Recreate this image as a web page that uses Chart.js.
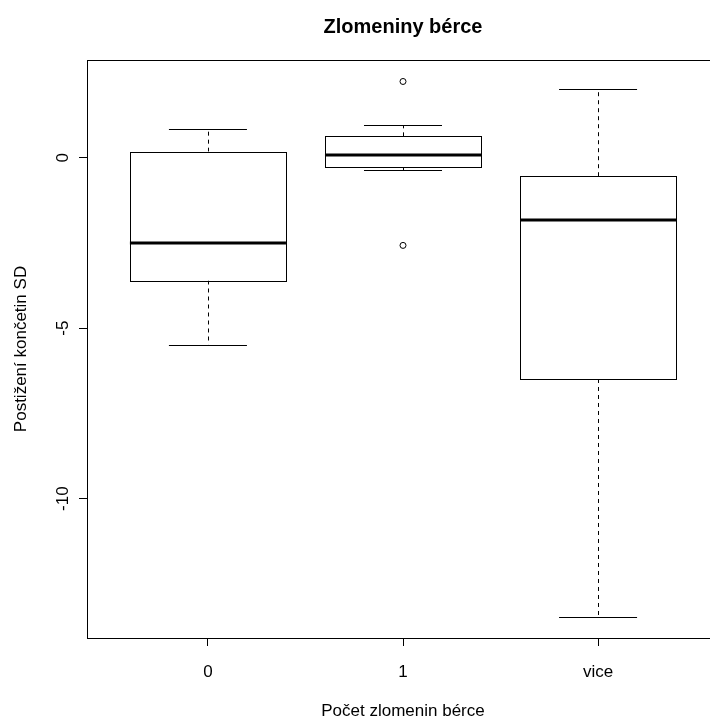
<!DOCTYPE html>
<html>
<head>
<meta charset="utf-8">
<script src="https://cdn.jsdelivr.net/npm/chart.js@4"></script>
<style>
    html, body { margin: 0; padding: 0; background: #fff; overflow: hidden; }
    #wrap { width: 730px; height: 720px; }
</style>
</head>
<body>
<div id="wrap"><canvas id="BoxChartjs" width="730" height="720"></canvas></div>
<script>
// values
const groups = ['0', '1', 'vice'];
const whiskerLow = [-5.48, -0.37, -13.46];
const q1 = [-3.60, -0.28, -6.49];
const median = [-2.49, 0.07, -1.83];
const q3 = [0.18, 0.63, -0.54];
const whiskerHigh = [0.85, 0.95, 2.02];
const outliers = [[], [2.24, -2.57], []];
const yTicks = [-10, -5, 0];
const xTicks = [1, 2, 3];

const fontFamily = '"Liberation Sans", Arial, Helvetica, sans-serif';
const BoxChart = document.getElementById('BoxChartjs').getContext('2d');

let outlierPoints = [];
outliers.forEach(function (list, i) {
    list.forEach(function (v) { outlierPoints.push({ x: i + 1, y: v }); });
});

function px(v) { return Math.round(v) + 0.5; }

// draws the boxes, whiskers and medians from the scales
const boxPlugin = {
    id: 'boxPlugin',
    beforeDatasetsDraw(chart) {
        const ctx = chart.ctx;
        const xs = chart.scales.x;
        const ys = chart.scales.y;
        ctx.save();
        ctx.strokeStyle = '#000';
        for (let i = 0; i < groups.length; i++) {
            const cx = xs.getPixelForValue(i + 1);
            const left = xs.getPixelForValue(i + 1 - 0.4);
            const right = xs.getPixelForValue(i + 1 + 0.4);
            const capL = xs.getPixelForValue(i + 1 - 0.2);
            const capR = xs.getPixelForValue(i + 1 + 0.2);
            const yLow = ys.getPixelForValue(whiskerLow[i]);
            const yQ1 = ys.getPixelForValue(q1[i]);
            const yMed = ys.getPixelForValue(median[i]);
            const yQ3 = ys.getPixelForValue(q3[i]);
            const yHigh = ys.getPixelForValue(whiskerHigh[i]);

            // whiskers
            ctx.lineWidth = 1;
            ctx.setLineDash([4, 4]);
            ctx.beginPath();
            ctx.moveTo(px(cx), yQ3);
            ctx.lineTo(px(cx), yHigh);
            ctx.moveTo(px(cx), yQ1);
            ctx.lineTo(px(cx), yLow);
            ctx.stroke();
            ctx.setLineDash([]);

            // caps
            ctx.beginPath();
            ctx.moveTo(capL, px(yHigh));
            ctx.lineTo(capR, px(yHigh));
            ctx.moveTo(capL, px(yLow));
            ctx.lineTo(capR, px(yLow));
            ctx.stroke();

            // box
            ctx.fillStyle = '#fff';
            ctx.fillRect(left, yQ3, right - left, yQ1 - yQ3);
            ctx.strokeRect(px(left), px(yQ3), Math.round(right - left), Math.round(yQ1 - yQ3));

            // median
            ctx.lineWidth = 3;
            ctx.beginPath();
            ctx.moveTo(left, Math.round(yMed));
            ctx.lineTo(right, Math.round(yMed));
            ctx.stroke();
        }

        // frame round the plot
        const a = chart.chartArea;
        ctx.lineWidth = 1;
        ctx.strokeRect(px(a.left), px(a.top), Math.round(a.right - a.left), Math.round(a.bottom - a.top));

        // y tick labels, turned like in R
        ctx.fillStyle = '#000';
        ctx.font = '17px ' + fontFamily;
        ctx.textAlign = 'center';
        ctx.textBaseline = 'middle';
        yTicks.forEach(function (v) {
            ctx.save();
            ctx.translate(a.left - 24, ys.getPixelForValue(v));
            ctx.rotate(-Math.PI / 2);
            ctx.fillText(String(v), 0, 0);
            ctx.restore();
        });
        ctx.restore();
    }
};

new Chart(BoxChart, {
    type: 'scatter',
    data: {
        datasets: [{
            label: 'odlehlé',
            data: outlierPoints,
            pointStyle: 'circle',
            pointRadius: 3,
            borderColor: '#000',
            borderWidth: 1,
            backgroundColor: 'rgba(0,0,0,0)'
        }]
    },
    options: {
        responsive: false,
        animation: false,
        layout: { padding: { left: 0, right: 11, top: 0, bottom: 0 } },
        plugins: {
            legend: { display: false },
            tooltip: { enabled: false },
            title: {
                display: true,
                text: 'Zlomeniny bérce',
                fullSize: false,
                color: '#000',
                font: { family: fontFamily, size: 20, weight: 'bold', lineHeight: 1.2 },
                padding: { top: 15, bottom: 21 }
            }
        },
        scales: {
            x: {
                type: 'linear',
                min: 0.38,
                max: 3.62,
                afterBuildTicks: function (scale) {
                    scale.ticks = xTicks.map(function (v) { return { value: v }; });
                },
                afterFit: function (scale) { scale.height = 82; },
                ticks: {
                    color: '#000',
                    padding: 16,
                    maxRotation: 0,
                    font: { family: fontFamily, size: 17 },
                    callback: function (value) { return groups[value - 1]; }
                },
                grid: { drawOnChartArea: false, drawTicks: true, tickLength: 8, color: '#000', tickColor: '#000' },
                border: { display: true, color: '#000' },
                title: {
                    display: true,
                    text: 'Počet zlomenin bérce',
                    color: '#000',
                    font: { family: fontFamily, size: 17, lineHeight: 1.0 },
                    padding: { top: 0, bottom: 0 }
                }
            },
            y: {
                type: 'linear',
                min: -14.09,
                max: 2.87,
                afterBuildTicks: function (scale) {
                    scale.ticks = yTicks.map(function (v) { return { value: v }; });
                },
                afterFit: function (scale) { scale.width = 87; },
                ticks: { display: false },
                grid: { drawOnChartArea: false, drawTicks: true, tickLength: 8, color: '#000', tickColor: '#000' },
                border: { display: true, color: '#000' },
                title: {
                    display: true,
                    text: 'Postižení končetin SD',
                    color: '#000',
                    font: { family: fontFamily, size: 17, lineHeight: 1.2 },
                    padding: { top: 11, bottom: 0 }
                }
            }
        }
    },
    plugins: [boxPlugin]
});
</script>
</body>
</html>
